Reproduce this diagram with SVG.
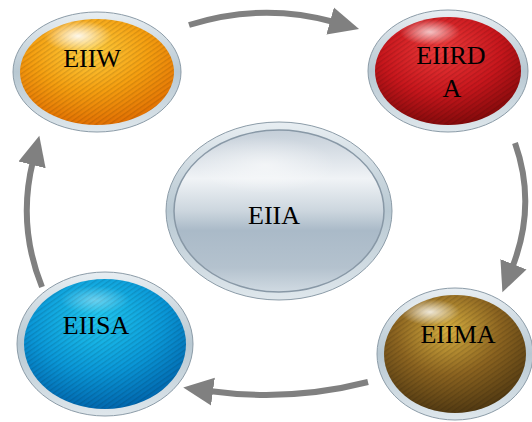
<svg xmlns="http://www.w3.org/2000/svg" width="532" height="422" viewBox="0 0 532 422">
<style>
.lbl{font-family:"Liberation Serif","Times New Roman",serif;font-size:26px;fill:#000;text-anchor:middle}
.ring{fill:url(#ringG);stroke:#8c9ca8;stroke-width:1}
.conn{fill:none;stroke:#808080;stroke-width:6;marker-end:url(#ah)}
.hl{fill:url(#hlG)}
.str{fill:url(#stripes)}
</style>
<defs>
<linearGradient id="ringG" x1="0" y1="0" x2="0" y2="1">
<stop offset="0" stop-color="#e8eef2"/><stop offset="0.5" stop-color="#b8c8d2"/><stop offset="1" stop-color="#dfe7ec"/>
</linearGradient>
<radialGradient id="hlG" cx="0.5" cy="0.5" r="0.5">
<stop offset="0" stop-color="#fff" stop-opacity="0.9"/><stop offset="1" stop-color="#fff" stop-opacity="0"/>
</radialGradient>
<pattern id="stripes" width="4" height="4" patternUnits="userSpaceOnUse" patternTransform="rotate(-35)">
<rect width="4" height="1.4" fill="#000" fill-opacity="0.12"/>
</pattern>
<radialGradient id="gOr" cx="0.45" cy="0.3" r="0.75">
<stop offset="0" stop-color="#ffd040"/><stop offset="0.5" stop-color="#f6a010"/><stop offset="1" stop-color="#e06a00"/>
</radialGradient>
<radialGradient id="gRd" cx="0.45" cy="0.3" r="0.75">
<stop offset="0" stop-color="#ee3a3a"/><stop offset="0.55" stop-color="#c8161c"/><stop offset="1" stop-color="#7a0808"/>
</radialGradient>
<radialGradient id="gBl" cx="0.45" cy="0.3" r="0.75">
<stop offset="0" stop-color="#20c8f0"/><stop offset="0.55" stop-color="#0a98d8"/><stop offset="1" stop-color="#0060a8"/>
</radialGradient>
<radialGradient id="gBr" cx="0.45" cy="0.3" r="0.75">
<stop offset="0" stop-color="#d8b040"/><stop offset="0.5" stop-color="#8c6420"/><stop offset="1" stop-color="#4a3410"/>
</radialGradient>
<linearGradient id="gGr" x1="0" y1="0" x2="0" y2="1">
<stop offset="0" stop-color="#c4ced8"/><stop offset="0.3" stop-color="#f0f3f6"/><stop offset="0.5" stop-color="#ccd6de"/><stop offset="0.62" stop-color="#aabac8"/><stop offset="0.85" stop-color="#b4c2ce"/><stop offset="1" stop-color="#d0dae2"/>
</linearGradient>
<marker id="ah" markerUnits="userSpaceOnUse" markerWidth="32" markerHeight="30" refX="4" refY="15" orient="auto">
<path d="M0,1 L30,15 L0,29 Z" fill="#808080"/>
</marker>
</defs>
<g id="connectors">
<path class="conn" d="M189,25 Q262,2 334,22"/>
<path class="conn" d="M515,143 Q537,205 512,268"/>
<path class="conn" d="M368,382 Q290,402 209,391"/>
<path class="conn" d="M42,287 Q17,225 33,161"/>
</g>
<g id="EIIA">
<ellipse class="ring" cx="279" cy="211" rx="113" ry="89"/>
<ellipse cx="279" cy="211" rx="105" ry="81" fill="url(#gGr)" stroke="#8898a6" stroke-width="1.5"/>
<ellipse class="hl" cx="265" cy="165" rx="70" ry="28" opacity="0.6"/>
<text class="lbl" x="274" y="224">EIIA</text>
</g>
<g id="EIIW">
<ellipse class="ring" cx="97" cy="72" rx="84" ry="60"/>
<ellipse cx="97" cy="72" rx="77" ry="53" fill="url(#gOr)"/>
<ellipse class="str" cx="97" cy="72" rx="77" ry="53"/>
<ellipse class="hl" cx="78" cy="36" rx="34" ry="16"/>
<text class="lbl" x="92" y="67">EIIW</text>
</g>
<g id="EIIRDA">
<ellipse class="ring" cx="448" cy="71" rx="80" ry="61"/>
<ellipse cx="448" cy="71" rx="73" ry="54" fill="url(#gRd)"/>
<ellipse class="str" cx="448" cy="71" rx="73" ry="54"/>
<ellipse class="hl" cx="430" cy="32" rx="30" ry="13" opacity="0.8"/>
<text class="lbl" x="451" y="64">EIIRD</text>
<text class="lbl" x="452" y="97">A</text>
</g>
<g id="EIISA">
<ellipse class="ring" cx="105" cy="344" rx="88" ry="72"/>
<ellipse cx="105" cy="344" rx="81" ry="65" fill="url(#gBl)"/>
<ellipse class="str" cx="105" cy="344" rx="81" ry="65"/>
<ellipse class="hl" cx="95" cy="300" rx="35" ry="14" opacity="0.4"/>
<text class="lbl" x="96" y="334">EIISA</text>
</g>
<g id="EIIMA">
<ellipse class="ring" cx="455" cy="354" rx="78" ry="66"/>
<ellipse cx="455" cy="354" rx="71" ry="59" fill="url(#gBr)"/>
<ellipse class="str" cx="455" cy="354" rx="71" ry="59"/>
<ellipse class="hl" cx="430" cy="312" rx="30" ry="13" opacity="0.9"/>
<text class="lbl" x="458" y="343">EIIMA</text>
</g>
</svg>
